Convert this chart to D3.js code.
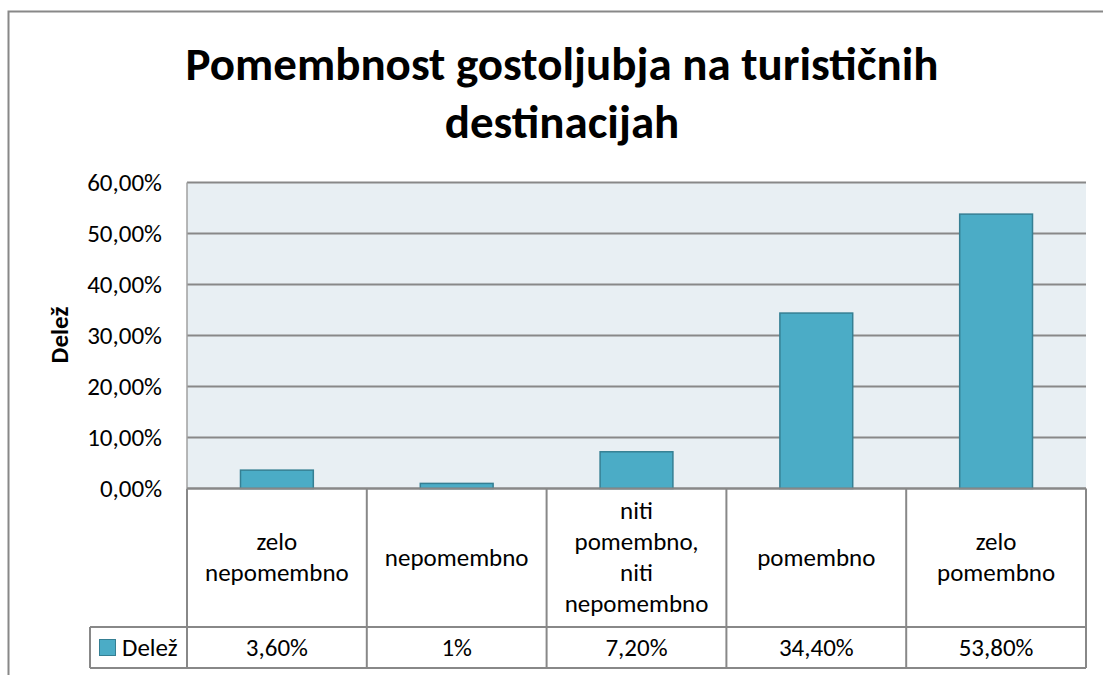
<!DOCTYPE html>
<html lang="sl">
<head>
<meta charset="utf-8">
<title>Pomembnost gostoljubja</title>
<style>
  body { margin: 0; background: #fff; }
  svg { display: block; font-family: Calibri, Carlito, Lato, sans-serif; }
</style>
<script src="https://cdn.jsdelivr.net/npm/d3@7"></script>
</head>
<body>
<script>
// data
var categories = [
  ["zelo", "nepomembno"],
  ["nepomembno"],
  ["niti", "pomembno,", "niti", "nepomembno"],
  ["pomembno"],
  ["zelo", "pomembno"]
];
var values = [3.6, 1, 7.2, 34.4, 53.8];
var valueLabels = ["3,60%", "1%", "7,20%", "34,40%", "53,80%"];
var yTicks = [0, 10, 20, 30, 40, 50, 60];
var seriesName = "Delež";
var titleLines = ["Pomembnost gostoljubja na turističnih", "destinacijah"];

var w = 1103, h = 675;
var plot = { left: 187, right: 1086, top: 182.5, bottom: 488.5 };
var tableRow1 = 627, tableRow2 = 668, legendLeft = 90;
var barColor = "#4bacc6", barStroke = "#357f93", gridColor = "#888888";
var fs = "25px";

var svg = d3.select("body").append("svg")
    .attr("width", w)
    .attr("height", h);

// outer chart frame (runs off the right and bottom of the picture)
svg.append("rect")
   .attr("x", 8.5).attr("y", 11.5)
   .attr("width", w + 20).attr("height", h + 20)
   .attr("fill", "#fff")
   .attr("stroke", gridColor)
   .attr("stroke-width", 2);

// title
svg.selectAll("text.title")
   .data(titleLines)
   .enter()
   .append("text")
   .attr("class", "title")
   .attr("x", 562)
   .attr("y", function (d, i) { return 80 + i * 58; })
   .attr("text-anchor", "middle")
   .style("font-weight", "bold")
   .style("font-size", "47px")
   .style("fill", "#000")
   .text(function (d) { return d; });

// scales
var x = d3.scaleBand()
    .domain(d3.range(values.length))
    .range([plot.left, plot.right])
    .padding(0);
var y = d3.scaleLinear()
    .domain([0, 60])
    .range([plot.bottom, plot.top]);

// plot background
svg.append("rect")
   .attr("x", plot.left).attr("y", plot.top)
   .attr("width", plot.right - plot.left)
   .attr("height", plot.bottom - plot.top)
   .attr("fill", "#e8eff3");

// gridlines
svg.selectAll("line.grid")
   .data(yTicks)
   .enter()
   .append("line")
   .attr("class", "grid")
   .attr("x1", plot.left).attr("x2", plot.right)
   .attr("y1", function (d) { return y(d); })
   .attr("y2", function (d) { return y(d); })
   .attr("stroke", gridColor)
   .attr("stroke-width", 2);

// left axis line
svg.append("line")
   .attr("x1", plot.left).attr("x2", plot.left)
   .attr("y1", plot.top).attr("y2", plot.bottom)
   .attr("stroke", "#a0a0a0")
   .attr("stroke-width", 1.5);

// y axis with d3 axis, then restyle
var yAxis = d3.axisLeft(y)
    .tickValues(yTicks)
    .tickSize(0)
    .tickPadding(25)
    .tickFormat(function (d) { return d3.format(".2f")(d).replace(".", ",") + "%"; });
var gy = svg.append("g")
    .attr("transform", "translate(" + plot.left + ",0)")
    .call(yAxis);
gy.select(".domain").remove();
gy.selectAll("text")
  .style("font-family", "Calibri, Carlito, Lato, sans-serif")
  .style("font-size", fs)
  .style("fill", "#000");

// axis title
svg.append("text")
   .attr("transform", "translate(68,335) rotate(-90)")
   .attr("text-anchor", "middle")
   .style("font-weight", "bold")
   .style("font-size", fs)
   .text(seriesName);

// bars
var barW = x.bandwidth() * 0.405;
svg.selectAll("rect.bar")
   .data(values)
   .enter()
   .append("rect")
   .attr("class", "bar")
   .attr("x", function (d, i) { return x(i) + (x.bandwidth() - barW) / 2; })
   .attr("y", function (d) { return y(d); })
   .attr("width", barW)
   .attr("height", function (d) { return y(0) - y(d); })
   .attr("fill", barColor)
   .attr("stroke", barStroke)
   .attr("stroke-width", 1.5);

// baseline on top of bars
svg.append("line")
   .attr("x1", plot.left).attr("x2", plot.right)
   .attr("y1", y(0)).attr("y2", y(0))
   .attr("stroke", gridColor)
   .attr("stroke-width", 2);

// data table
var tbl = svg.append("g").attr("stroke", gridColor).attr("stroke-width", 2);
tbl.selectAll("line.col")
   .data(d3.range(values.length + 1))
   .enter()
   .append("line")
   .attr("x1", function (i) { return i < values.length ? x(i) : plot.right; })
   .attr("x2", function (i) { return i < values.length ? x(i) : plot.right; })
   .attr("y1", y(0))
   .attr("y2", tableRow2);
tbl.append("line")
   .attr("x1", legendLeft).attr("x2", plot.right)
   .attr("y1", tableRow1).attr("y2", tableRow1);
tbl.append("line")
   .attr("x1", legendLeft).attr("x2", plot.right)
   .attr("y1", tableRow2).attr("y2", tableRow2);
tbl.append("line")
   .attr("x1", legendLeft).attr("x2", legendLeft)
   .attr("y1", tableRow1).attr("y2", tableRow2);

// category labels
var lineH = 31;
var catG = svg.selectAll("text.cat")
   .data(categories)
   .enter()
   .append("text")
   .attr("class", "cat")
   .attr("text-anchor", "middle")
   .style("font-size", fs)
   .style("fill", "#000");
catG.selectAll("tspan")
   .data(function (d, i) { return d.map(function (t, j) { return { t: t, j: j, n: d.length, i: i }; }); })
   .enter()
   .append("tspan")
   .attr("x", function (d) { return x(d.i) + x.bandwidth() / 2; })
   .attr("y", function (d) {
      var mid = (y(0) + tableRow1) / 2;
      return mid + (d.j - (d.n - 1) / 2) * lineH + 8;
   })
   .text(function (d) { return d.t; });

// value labels
svg.selectAll("text.val")
   .data(valueLabels)
   .enter()
   .append("text")
   .attr("class", "val")
   .attr("x", function (d, i) { return x(i) + x.bandwidth() / 2; })
   .attr("y", (tableRow1 + tableRow2) / 2 + 8)
   .attr("text-anchor", "middle")
   .style("font-size", fs)
   .text(function (d) { return d; });

// legend key
svg.append("rect")
   .attr("x", 99.5).attr("y", 639.5)
   .attr("width", 16).attr("height", 16)
   .attr("fill", barColor)
   .attr("stroke", barStroke)
   .attr("stroke-width", 1);
svg.append("text")
   .attr("x", 122).attr("y", 656)
   .style("font-size", fs)
   .text(seriesName);
</script>
</body>
</html>
